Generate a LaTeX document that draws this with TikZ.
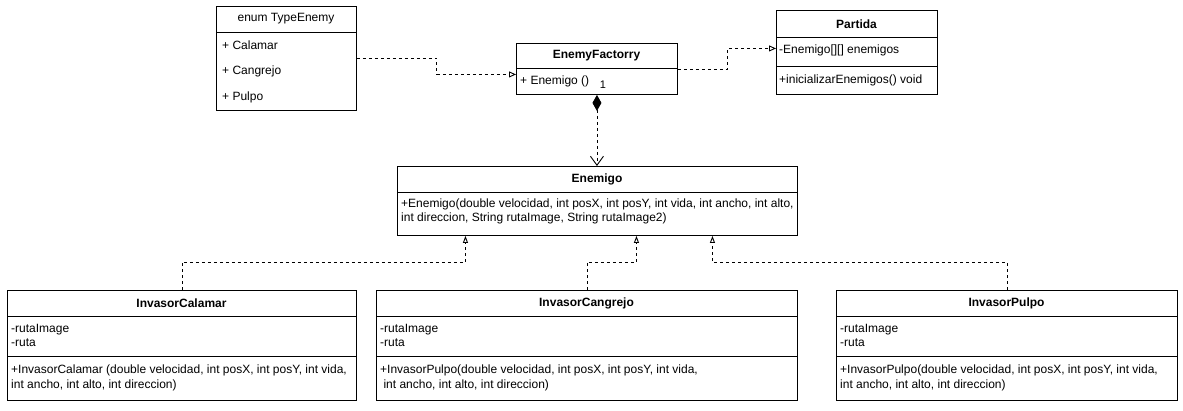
\documentclass[tikz,border=0pt]{standalone}
\usepackage{fontspec}
\setmainfont{Liberation Sans}
\usetikzlibrary{arrows.meta,calc}
\begin{document}
\begin{tikzpicture}[x=1pt,y=-1pt,
  font=\fontsize{12}{14.5}\selectfont,
  cls/.style={draw=black,line width=0.9pt,fill=white,anchor=north west,inner sep=0pt},
  sep/.style={draw=black,line width=0.9pt},
  ttl/.style={anchor=center,inner sep=0pt,font=\fontsize{12}{14.5}\selectfont\bfseries},
  txt/.style={anchor=west,inner sep=0pt,align=left},
  dep/.style={draw=black,line width=0.9pt,dash pattern=on 3pt off 3pt,-{Triangle[open,length=7pt,width=6pt]}},
  inh/.style={draw=black,line width=0.9pt,dash pattern=on 3pt off 3pt,-{Triangle[open,length=7pt,width=5pt]}},
  comp/.style={draw=black,line width=0.9pt,dash pattern=on 3pt off 3pt,{Diamond[length=16pt,width=9pt]}-{Straight Barb[length=9pt,width=13pt]}}]
\useasboundingbox (0,0) rectangle (1183,410);

% enum TypeEnemy
\node[cls,minimum width=140pt,minimum height=104pt] (te) at (216,6) {};
\draw[sep] (216,32) -- (356,32);
\node[anchor=center,inner sep=0pt] (teT) at (286,19) {enum TypeEnemy};
\node[txt] (te1) at (222,45) {+ Calamar};
\node[txt] (te2) at (222,71) {+ Cangrejo};
\node[txt] (te3) at (222,97) {+ Pulpo};

% EnemyFactorry
\node[cls,minimum width=161pt,minimum height=51pt] (fac) at (516,43) {};
\draw[sep] (516,68) -- (677,68);
\node[ttl] (facT) at (596.5,56) {EnemyFactorry};
\node[txt] (fac1) at (520,81) {+ Enemigo ()};

% Partida
\node[cls,minimum width=161pt,minimum height=84pt] (par) at (776,10) {};
\draw[sep] (776,37) -- (937,37);
\draw[sep] (776,66) -- (937,66);
\node[ttl] (parT) at (856.5,24) {Partida};
\node[txt] (par1) at (779,50) {-Enemigo[][] enemigos};
\node[txt] (par2) at (779,80) {+inicializarEnemigos() void};

% Enemigo
\node[cls,minimum width=400pt,minimum height=69pt] (en) at (397,166) {};
\draw[sep] (397,192) -- (797,192);
\node[ttl] (enT) at (597,179) {Enemigo};
\node[txt] (en1) at (401,211.5) {+Enemigo(double velocidad, int posX, int posY, int vida, int ancho, int alto,\\int direccion, String rutaImage, String rutaImage2)};

% InvasorCalamar
\node[cls,minimum width=349pt,minimum height=110pt] (cal) at (7,290) {};
\draw[sep] (7,316) -- (356,316);
\draw[sep] (7,356) -- (356,356);
\node[ttl] (calT) at (181.5,303) {InvasorCalamar};
\node[txt] (cal1) at (11,335.5) {-rutaImage\\-ruta};
\node[txt] (cal2) at (11,378) {+InvasorCalamar (double velocidad, int posX, int posY, int vida,\\int ancho, int alto, int direccion)};

% InvasorCangrejo
\node[cls,minimum width=421pt,minimum height=110pt] (can) at (376,290) {};
\draw[sep] (376,316) -- (797,316);
\draw[sep] (376,356) -- (797,356);
\node[ttl] (canT) at (586.5,303) {InvasorCangrejo};
\node[txt] (can1) at (380,335.5) {-rutaImage\\-ruta};
\node[txt] (can2) at (380,378) {+InvasorPulpo(double velocidad, int posX, int posY, int vida,\\\ int ancho, int alto, int direccion)};

% InvasorPulpo
\node[cls,minimum width=341pt,minimum height=110pt] (pul) at (836,290) {};
\draw[sep] (836,316) -- (1177,316);
\draw[sep] (836,356) -- (1177,356);
\node[ttl] (pulT) at (1006.5,303) {InvasorPulpo};
\node[txt] (pul1) at (840,335.5) {-rutaImage\\-ruta};
\node[txt] (pul2) at (840,378) {+InvasorPulpo(double velocidad, int posX, int posY, int vida,\\int ancho, int alto, int direccion)};

% connectors
\draw[dep] (te.east) -- ++(80,0) |- ([yshift=-5.5pt]fac.west);
\draw[dep] (fac.east) -- ++(50,0) |- ([yshift=4pt]par.west);
\draw[comp] (fac.south) -- (fac.south |- en.north);
\node[anchor=center,inner sep=0pt,font=\fontsize{11}{13}\selectfont] (mult) at (603,85) {1};
\draw[inh] (cal.north) -- ++(0,-28) -| ([xshift=-132pt]en.south);
\draw[inh] (can.north) -- ++(0,-28) -| ([xshift=39pt]en.south);
\draw[inh] (pul.north) -- ++(0,-28) -| ([xshift=115pt]en.south);
\end{tikzpicture}
\end{document}
